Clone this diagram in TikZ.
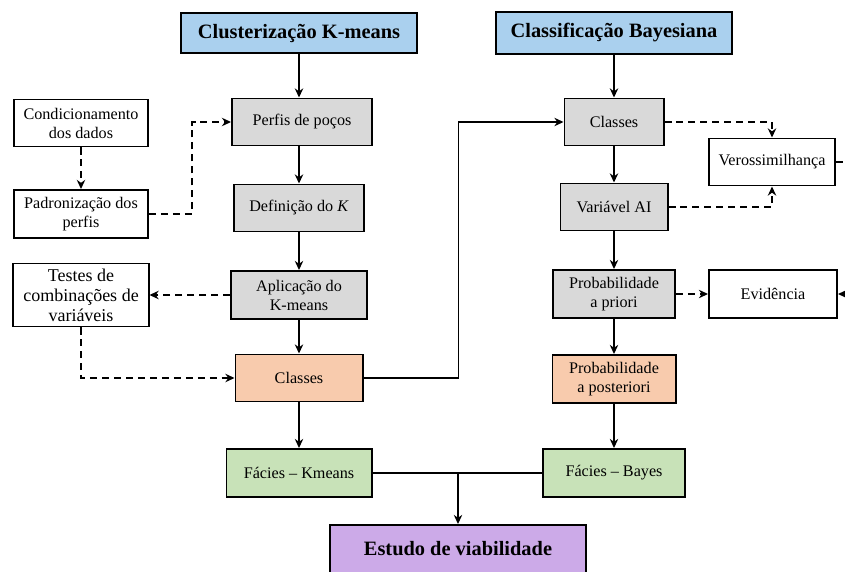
\documentclass[tikz,border=0pt]{standalone}
\usepackage{fontspec}
\setmainfont{Liberation Serif}
\usepackage{tikz}
\usetikzlibrary{arrows.meta}

\definecolor{titleblue}{RGB}{170,208,238}
\definecolor{stepgray}{RGB}{217,217,217}
\definecolor{classorange}{RGB}{248,203,173}
\definecolor{faciesgreen}{RGB}{200,226,184}
\definecolor{studypurple}{RGB}{204,170,232}

\begin{document}
\begin{tikzpicture}[x=0.025cm, y=-0.025cm,
    box/.style={draw, line width=1.4pt, align=center, inner sep=1pt,
      minimum height=1.175cm, font=\fontsize{11.5}{13.5}\selectfont},
    titlebox/.style={box, fill=titleblue, minimum height=1cm,
      font=\fontsize{14.5}{16}\selectfont\bfseries},
    stepbox/.style={box, fill=stepgray},
    classbox/.style={box, fill=classorange},
    faciesbox/.style={box, fill=faciesgreen},
    flow/.style={line width=1pt, -{Stealth[length=6.5pt,width=6pt]}},
    aux/.style={flow, dash pattern=on 5pt off 3.5pt}]
  \useasboundingbox (0,0) rectangle (845,571);
  \clip (0,0) rectangle (845,571);

  % k-means column
  \node[titlebox, minimum width=5.9cm] (cluster) at (299,33) {Clusterização K-means};
  \node[stepbox, minimum width=3.5cm] (perfis) at (302,122) {Perfis de poços};
  \node[stepbox, minimum width=3.25cm] (def) at (299,208) {Definição do \textit{K}};
  \node[stepbox, minimum width=3.4cm, minimum height=1.2cm] (aplic) at (299,295) {Aplicação do\\K-means};
  \node[classbox, minimum width=3.175cm] (classesk) at (299,378) {Classes};
  \node[faciesbox, minimum width=3.625cm, minimum height=1.2cm] (faciesk) at (299,473) {Fácies -- Kmeans};

  % left side boxes
  \node[box, minimum width=3.35cm] (cond) at (81,123) {Condicionamento\\dos dados};
  \node[box, minimum width=3.35cm, minimum height=1.2cm] (padron) at (81,214) {Padronização dos\\perfis};
  \node[box, minimum width=3.375cm, minimum height=1.575cm,
    font=\fontsize{12.8}{14.2}\selectfont] (testes) at (81,295) {Testes de\\combinações de\\variáveis};

  % bayes column
  \node[titlebox, minimum width=5.875cm, minimum height=1.05cm] (bayes) at (614,33) {Classificação Bayesiana};
  \node[stepbox, minimum width=2.475cm] (classesb) at (614,122) {Classes};
  \node[stepbox, minimum width=2.675cm] (varai) at (614,207) {Variável AI};
  \node[stepbox, minimum width=3.05cm, minimum height=1.2cm] (priori) at (614,294) {Probabilidade\\a priori};
  \node[classbox, minimum width=3.075cm, minimum height=1.2cm] (poster) at (614,379) {Probabilidade\\a posteriori};
  \node[faciesbox, minimum width=3.55cm, minimum height=1.2cm] (faciesb) at (614,473) {Fácies -- Bayes};

  % right side boxes
  \node[box, minimum width=3.15cm] (vero) at (772,162) {Verossimilhança};
  \node[box, minimum width=3.2cm, minimum height=1.2cm] (evid) at (773,294) {Evidência};

  \node[box, fill=studypurple, minimum width=6.4cm, minimum height=1.3cm,
    font=\fontsize{14.5}{16}\selectfont\bfseries] (estudo) at (458,551) {\raisebox{4pt}{Estudo de viabilidade}};

  % main flow
  \draw[flow] (cluster.south) -- (cluster.south |- perfis.north);
  \draw[flow] (def.north |- perfis.south) -- (def.north);
  \draw[flow] (def) -- (aplic);
  \draw[flow] (aplic) -- (classesk);
  \draw[flow] (classesk) -- (faciesk);
  \draw[flow] (bayes) -- (classesb);
  \draw[flow] (classesb) -- (varai);
  \draw[flow] (varai) -- (priori);
  \draw[flow] (priori) -- (poster);
  \draw[flow] (poster) -- (faciesb);
  \draw[flow] (classesk.east) -- ++(95,0) |- (classesb.west);
  \draw[line width=1pt] (faciesk) -- (faciesb);
  \draw[flow] (estudo.north |- faciesk.east) -- (estudo.north);

  % dashed links
  \draw[aux] (cond) -- (padron);
  \draw[aux] (padron.east) -- ++(43,0) |- (perfis.west);
  \draw[aux] (aplic.west) -- (testes.east);
  \draw[aux] (testes.south) |- (classesk.west);
  \draw[aux] (classesb.east) -| (vero.north);
  \draw[aux] (varai.east) -| (vero.south);
  \draw[aux] (priori) -- (evid);
  \draw[aux] (vero.east) -- ++(30,0) |- (evid.east);
\end{tikzpicture}
\end{document}
